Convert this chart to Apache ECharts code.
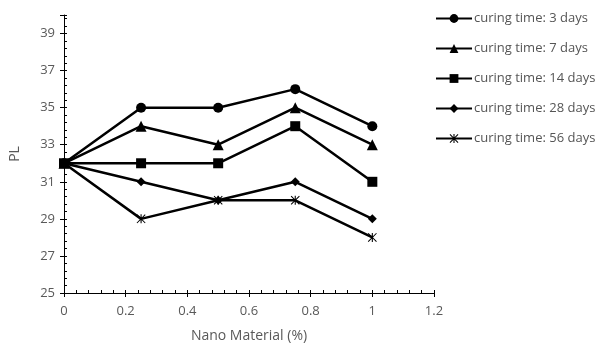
<!DOCTYPE html>
<html>
<head>
<meta charset="utf-8">
<script src="https://cdn.jsdelivr.net/npm/echarts@6/dist/echarts.min.js"></script>
<style>
  html, body { margin: 0; padding: 0; background: #fff; }
  #chart { width: 603px; height: 348px; }
</style>
</head>
<body>
<div id="chart"></div>
<script>
// nano material dosage (%)
const nano = [0, 0.25, 0.5, 0.75, 1];
const seriesNames = [
  'curing time: 3 days',
  'curing time: 7 days',
  'curing time: 14 days',
  'curing time: 28 days',
  'curing time: 56 days'
];
const pl3 = [32, 35, 35, 36, 34];
const pl7 = [32, 34, 33, 35, 33];
const pl14 = [32, 32, 32, 34, 31];
const pl28 = [32, 31, 30, 31, 29];
const pl56 = [32, 29, 30, 30, 28];

// asterisk marker (x plus vertical bar)
const asterisk = 'path://M4.4,0 L5.6,0 L5.6,10 L4.4,10 Z M0,0.8 L0.8,0 L10,9.2 L9.2,10 Z M9.2,0 L10,0.8 L0.8,10 L0,9.2 Z';

const chart = echarts.init(document.getElementById('chart'));
const txt = '#595959';
const font = 'Open Sans';

function mk(name, vals, symbol, size) {
  return {
    name: name,
    type: 'line',
    data: nano.map((x, i) => [x, vals[i]]),
    symbol: symbol,
    symbolSize: size,
    showAllSymbol: true,
    lineStyle: { color: '#000', width: 2.5 },
    itemStyle: { color: '#000' },
    emphasis: { disabled: true },
    animation: false
  };
}

chart.setOption({
  animation: false,
  grid: { left: 64, right: 169, top: 15, bottom: 53 },
  legend: {
    orient: 'vertical',
    left: 430,
    top: 7,
    itemWidth: 36,
    itemHeight: 11,
    itemGap: 17,
    textStyle: { color: '#555', fontSize: 13, fontFamily: font, padding: [0, 0, 0, -3] },
    data: seriesNames
  },
  xAxis: [{
    type: 'value',
    min: 0, max: 1.2, interval: 0.2,
    name: 'Nano Material (%)',
    nameLocation: 'middle',
    nameGap: 36,
    nameTextStyle: { color: txt, fontSize: 14, fontFamily: font },
    axisLine: { lineStyle: { color: '#000', width: 1 } },
    axisTick: { show: true, inside: true, length: 3, lineStyle: { color: '#000' } },
    minorTick: { show: true, splitNumber: 5, length: 3, lineStyle: { color: '#000' } },
    axisLabel: { color: txt, fontSize: 13, fontFamily: font, margin: 12 },
    splitLine: { show: false }
  }, {
    type: 'value',
    position: 'bottom',
    min: 0, max: 1.2, interval: 0.2,
    axisLine: { show: false },
    axisTick: { show: true, inside: false, length: 4, lineStyle: { color: '#000' } },
    axisLabel: { show: false },
    splitLine: { show: false }
  }],
  yAxis: [{
    type: 'value',
    min: 25, max: 40, interval: 2,
    name: 'PL',
    nameLocation: 'middle',
    nameGap: 42,
    nameTextStyle: { color: txt, fontSize: 14, fontFamily: font },
    axisLine: { show: true, lineStyle: { color: '#000', width: 1 } },
    axisTick: { show: true, inside: true, length: 3, lineStyle: { color: '#000' } },
    minorTick: { show: true, splitNumber: 5, length: 3, lineStyle: { color: '#000' } },
    axisLabel: {
      color: txt, fontSize: 13, fontFamily: font, margin: 9,
      formatter: v => (v === 40 ? '' : v)
    },
    splitLine: { show: false }
  }, {
    type: 'value',
    position: 'left',
    min: 25, max: 40, interval: 2,
    axisLine: { show: false },
    axisTick: { show: true, inside: false, length: 4, lineStyle: { color: '#000' } },
    axisLabel: { show: false },
    splitLine: { show: false }
  }],
  series: [
    mk(seriesNames[0], pl3, 'circle', 10),
    mk(seriesNames[1], pl7, 'triangle', 11),
    mk(seriesNames[2], pl14, 'rect', 10),
    mk(seriesNames[3], pl28, 'diamond', 9),
    mk(seriesNames[4], pl56, asterisk, 9)
  ]
});
</script>
</body>
</html>
